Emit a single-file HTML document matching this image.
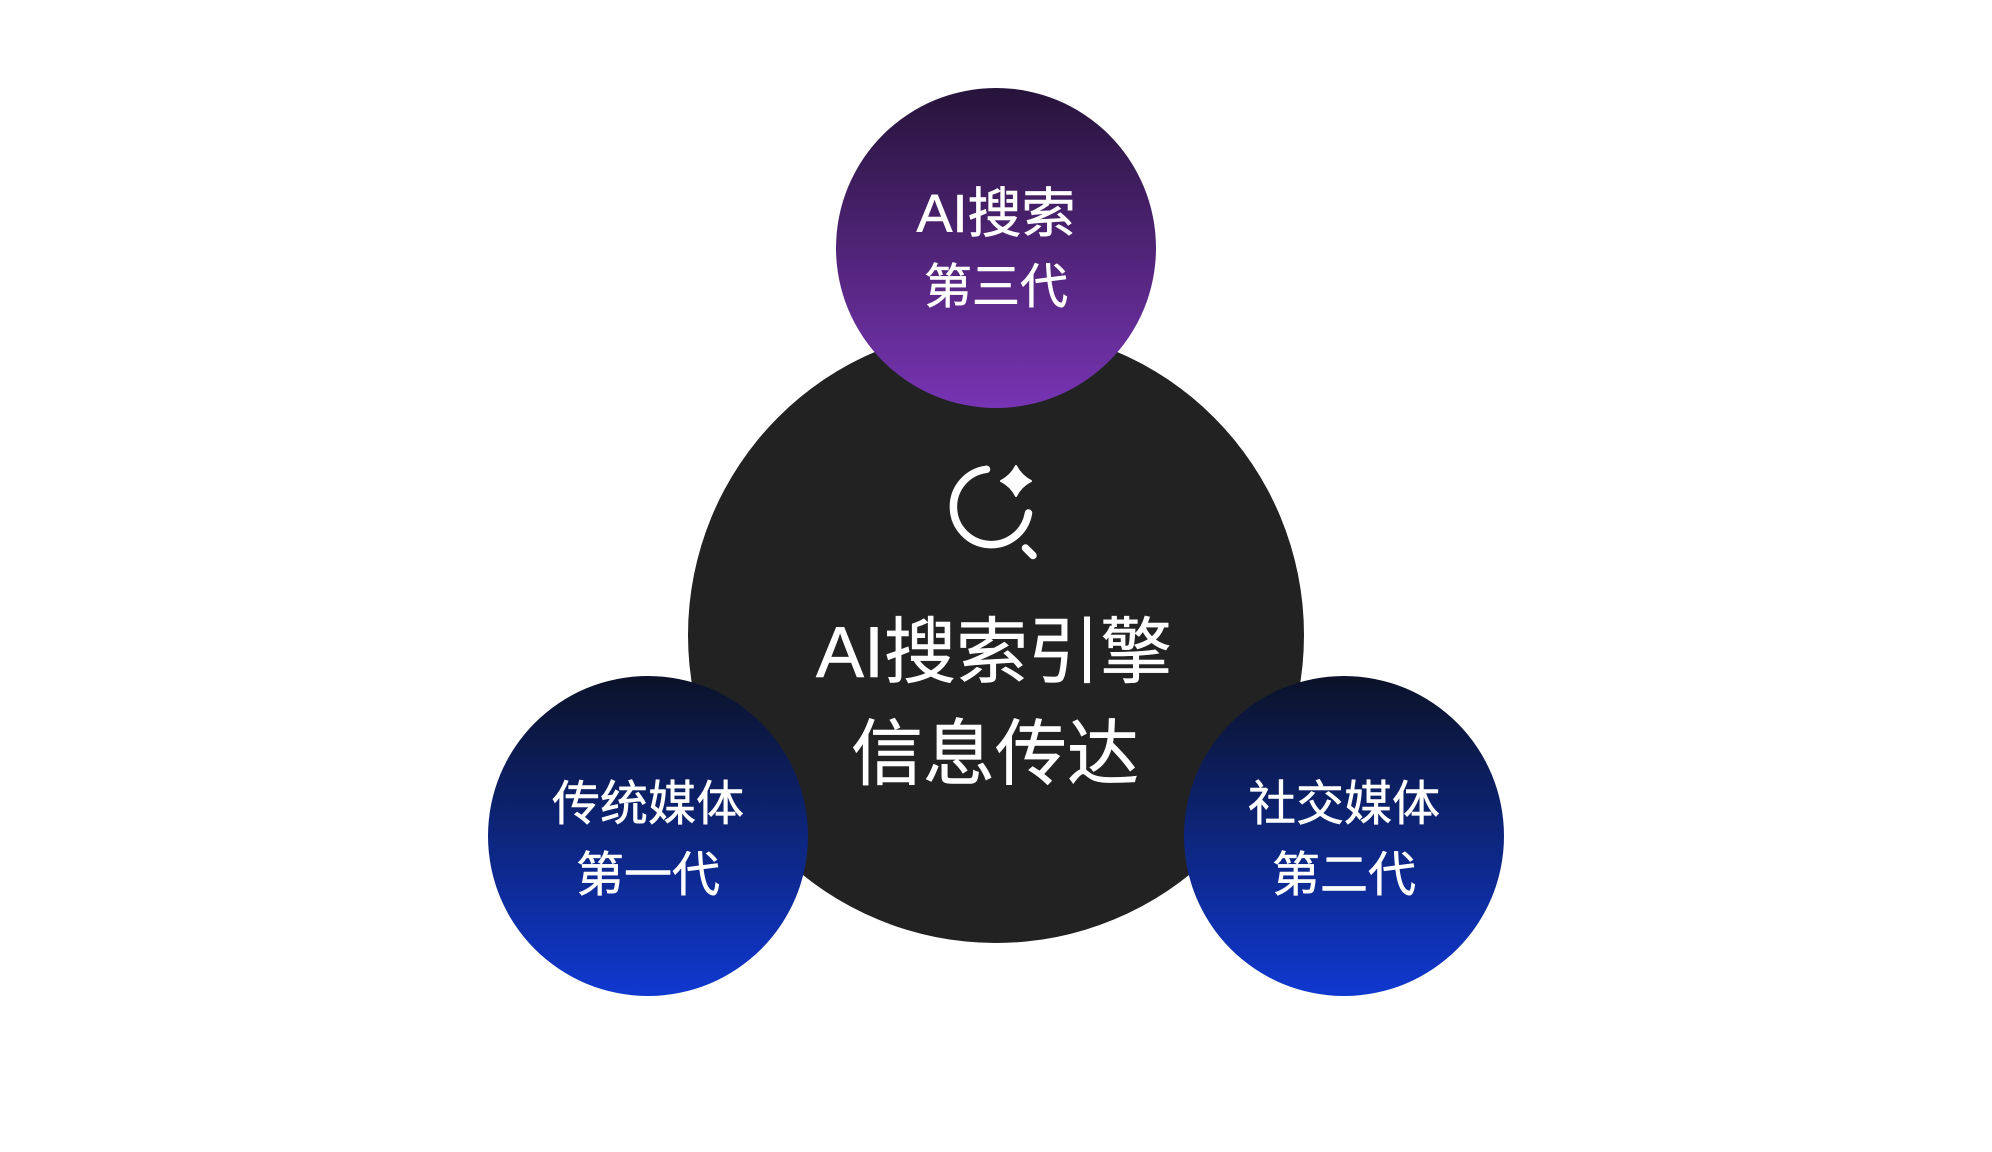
<!DOCTYPE html>
<html>
<head>
<meta charset="utf-8">
<style>
  html, body { margin:0; padding:0; background:#ffffff; }
  body { width:1992px; height:1152px; overflow:hidden; }
  svg { display:block; }
  text { font-family: "Liberation Sans", "Noto Sans CJK SC", sans-serif; fill:#ffffff; stroke:#ffffff; stroke-width:0.6px; }
</style>
</head>
<body>
<svg width="1992" height="1152" viewBox="0 0 1992 1152" xmlns="http://www.w3.org/2000/svg">
  <defs>
    <linearGradient id="gPurple" x1="0" y1="0" x2="0" y2="1">
      <stop offset="0" stop-color="#261339"/>
      <stop offset="1" stop-color="#7834b4"/>
    </linearGradient>
    <linearGradient id="gBlue" x1="0" y1="0" x2="0" y2="1">
      <stop offset="0" stop-color="#0b1228"/>
      <stop offset="1" stop-color="#0f38d0"/>
    </linearGradient>
  </defs>
  <rect width="1992" height="1152" fill="#ffffff"/>

  <!-- center dark circle -->
  <circle cx="996" cy="635" r="308" fill="#222222"/>

  <!-- top purple circle -->
  <circle cx="996" cy="248" r="160" fill="url(#gPurple)"/>

  <!-- left & right blue circles -->
  <circle cx="648" cy="836" r="160" fill="url(#gBlue)"/>
  <circle cx="1344" cy="836" r="160" fill="url(#gBlue)"/>

  <!-- icon -->
  <g fill="none" stroke="#ffffff" stroke-width="7.5" stroke-linecap="round">
    <path d="M 986.5 469.3 A 37.8 37.8 0 1 0 1028.5 513"/>
    <line x1="1025.5" y1="548" x2="1033" y2="555.5"/>
  </g>
  <path d="M 1016 466 Q 1021 476 1031 481 Q 1021 486 1016 496 Q 1011 486 1001 481 Q 1011 476 1016 466 Z" fill="#ffffff" stroke="#ffffff" stroke-width="2" stroke-linejoin="round"/>

  <!-- center text -->
  <text x="994" y="677" font-size="72" text-anchor="middle">AI搜索引擎</text>
  <text x="995" y="779" font-size="72" text-anchor="middle">信息传达</text>

  <!-- top text -->
  <text x="996" y="232" font-size="54" text-anchor="middle">AI搜索</text>
  <text x="996" y="303" font-size="48" text-anchor="middle">第三代</text>

  <!-- left text -->
  <text x="648" y="820" font-size="48" text-anchor="middle">传统媒体</text>
  <text x="648" y="891" font-size="48" text-anchor="middle">第一代</text>

  <!-- right text -->
  <text x="1344" y="820" font-size="48" text-anchor="middle">社交媒体</text>
  <text x="1344" y="891" font-size="48" text-anchor="middle">第二代</text>
</svg>
</body>
</html>
